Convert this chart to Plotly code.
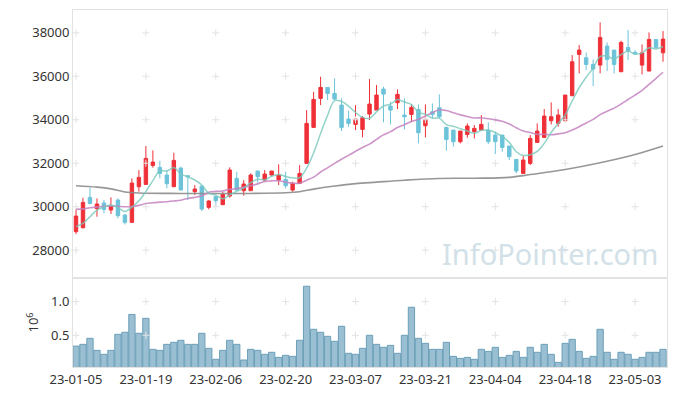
import plotly.graph_objects as go
from plotly.subplots import make_subplots
import pandas as pd

dates = [
    "23-01-05", "23-01-06", "23-01-09", "23-01-10", "23-01-11", "23-01-12", "23-01-13", "23-01-16",
    "23-01-17", "23-01-18", "23-01-19", "23-01-20", "23-01-25", "23-01-26", "23-01-27", "23-01-30",
    "23-01-31", "23-02-01", "23-02-02", "23-02-03", "23-02-06", "23-02-07", "23-02-08", "23-02-09",
    "23-02-10", "23-02-13", "23-02-14", "23-02-15", "23-02-16", "23-02-17", "23-02-20", "23-02-21",
    "23-02-22", "23-02-23", "23-02-24", "23-02-27", "23-02-28", "23-03-02", "23-03-03", "23-03-06",
    "23-03-07", "23-03-08", "23-03-09", "23-03-10", "23-03-13", "23-03-14", "23-03-15", "23-03-16",
    "23-03-17", "23-03-20", "23-03-21", "23-03-22", "23-03-23", "23-03-24", "23-03-27", "23-03-28",
    "23-03-29", "23-03-30", "23-03-31", "23-04-03", "23-04-04", "23-04-05", "23-04-06", "23-04-07",
    "23-04-10", "23-04-11", "23-04-12", "23-04-13", "23-04-14", "23-04-17", "23-04-18", "23-04-19",
    "23-04-20", "23-04-21", "23-04-24", "23-04-25", "23-04-26", "23-04-27", "23-04-28", "23-05-02",
    "23-05-03", "23-05-04", "23-05-08", "23-05-09", "23-05-10",
]

opens = [
    28850, 29034, 30429, 29908, 30169, 29847, 30307, 29617, 29280, 30920,
    31027, 31901, 31809, 31456, 30920, 31778, 31426, 30690, 30950, 29970,
    30460, 30092, 30490, 31303, 30736, 30736, 31640, 31226, 31456, 31226,
    31257, 30767, 31073, 31993, 33649, 34982, 35488, 35212, 34676, 34032,
    33787, 33556, 34262, 34446, 35411, 34630, 34783, 34216, 34246, 34476,
    33725, 34369, 34553, 33649, 33526, 32990, 33326, 33449, 33526, 33526,
    33296, 33296, 32790, 32177, 31533, 31993, 32959, 33189, 33955, 33833,
    33955, 35105, 37006, 36853, 36546, 36515, 37389, 37205, 36209, 37328,
    37098, 36515, 36240, 37696, 37082,
]
highs = [
    29877, 30414, 30874, 30383, 30307, 30429, 30383, 29647, 31303, 31686,
    32790, 32591, 32116, 31686, 32483, 31840, 31426, 30997, 30950, 30307,
    30506, 30690, 31809, 31610, 31226, 31533, 31640, 31686, 31640, 31947,
    31610, 31150, 31916, 34446, 35289, 35979, 35488, 35902, 34982, 34415,
    34676, 34170, 35871, 35596, 35519, 34829, 35396, 34982, 34722, 34706,
    34706, 34752, 35166, 33649, 33526, 33480, 33833, 33756, 34216, 33879,
    33449, 33296, 32790, 32177, 32346, 33296, 33833, 34492, 34799, 34492,
    35136, 36976, 37435, 37098, 36776, 38478, 37557, 37205, 37634, 38125,
    37205, 37466, 38018, 37696, 38079,
]
lows = [
    28743, 29000, 30107, 29540, 29693, 29663, 29463, 29187, 29280, 30690,
    30997, 31794, 31303, 30843, 30920, 30767, 30307, 30537, 29800, 29877,
    30000, 30092, 30414, 30767, 30506, 30736, 31104, 31150, 31426, 30997,
    30843, 30690, 31042, 31993, 33649, 34676, 34906, 34906, 33480, 33679,
    33526, 33189, 33986, 34446, 33879, 33786, 34492, 33557, 33894, 32913,
    33189, 34062, 34062, 32575, 32759, 32913, 33173, 33143, 33495, 32882,
    32422, 32530, 32146, 31533, 31533, 31916, 32959, 33189, 33786, 33679,
    33955, 35105, 36132, 36286, 35550, 36132, 36240, 36132, 36209, 36745,
    36976, 36086, 36240, 37312, 36669,
]
closes = [
    29571, 30199, 30153, 30123, 29877, 30046, 29586, 29280, 31088, 31349,
    32223, 32054, 31533, 31058, 32131, 30767, 31380, 30813, 29893, 30260,
    30276, 30567, 31686, 30767, 31042, 31456, 31380, 31502, 31640, 31456,
    30966, 31073, 31533, 33833, 34936, 35488, 35212, 34952, 33649, 33833,
    34032, 34093, 34722, 35136, 35181, 34446, 35166, 34139, 34569, 33403,
    34016, 34246, 34139, 33097, 32990, 33480, 33710, 33603, 33787, 32990,
    32990, 32729, 32300, 31640, 32146, 33143, 33480, 34170, 34139, 34216,
    35136, 36669, 37205, 36546, 36332, 37788, 36776, 36546, 37557, 37159,
    37052, 37082, 37696, 37312, 37711,
]

# volume in millions of shares
volumes = [
    0.340, 0.366, 0.455, 0.277, 0.218, 0.277, 0.515, 0.545, 0.810, 0.530,
    0.752, 0.292, 0.277, 0.366, 0.396, 0.426, 0.366, 0.366, 0.530, 0.307,
    0.144, 0.277, 0.426, 0.366, 0.134, 0.292, 0.277, 0.218, 0.248, 0.173,
    0.203, 0.188, 0.426, 1.228, 0.589, 0.545, 0.485, 0.411, 0.634, 0.233,
    0.218, 0.307, 0.500, 0.366, 0.322, 0.351, 0.233, 0.500, 0.916, 0.455,
    0.381, 0.292, 0.292, 0.396, 0.188, 0.158, 0.173, 0.144, 0.292, 0.262,
    0.322, 0.173, 0.203, 0.262, 0.173, 0.322, 0.248, 0.366, 0.218, 0.099,
    0.381, 0.440, 0.262, 0.158, 0.188, 0.589, 0.248, 0.144, 0.248, 0.218,
    0.144, 0.173, 0.248, 0.248, 0.292,
]

# moving-average values before enough history is visible
ma5_head = [29080, 29230, 29540, 29847]
ma20_head = [29877, 29900, 29950, 29990, 30020, 30030, 30020, 30000, 30010, 30060,
             30150, 30180, 30210, 30230, 30260, 30300, 30380, 30430, 30500]
# long moving average (gray), read at these candle indexes
ma_long_idx = [0, 3, 5, 7, 9, 15, 20, 25, 30, 32, 34, 37, 40, 43, 47, 52, 57, 62, 65, 70, 75, 80, 84]
ma_long_val = [30966, 30900, 30820, 30680, 30630, 30610, 30610, 30610, 30640, 30690, 30810, 30950,
               31060, 31130, 31220, 31300, 31310, 31350, 31480, 31710, 32020, 32400, 32790]

price_ticks = [28000, 30000, 32000, 34000, 36000, 38000]
vol_ticks = [0.5, 1.0]

cs = pd.Series(closes, dtype=float)
ma5 = cs.rolling(5).mean().tolist()
ma5[:4] = ma5_head
ma20 = cs.rolling(20).mean().tolist()
ma20[:19] = ma20_head

fig = make_subplots(rows=2, cols=1, shared_xaxes=True, vertical_spacing=0,
                    row_heights=[268, 89])

tick_dates = dates[::10]

# small cross-shaped grid markers at tick intersections
cross = dict(symbol="cross-thin", size=5, line=dict(color="#e3e3e3", width=1))
gx, gy = [], []
for d in tick_dates:
    for t in price_ticks:
        gx.append(d); gy.append(t)
fig.add_trace(go.Scatter(x=gx, y=gy, mode="markers", hoverinfo="skip", showlegend=False,
                         marker=cross), row=1, col=1)
vx, vy = [], []
for d in tick_dates:
    for t in vol_ticks:
        vx.append(d); vy.append(t)
fig.add_trace(go.Scatter(x=vx, y=vy, mode="markers", hoverinfo="skip", showlegend=False,
                         marker=cross), row=2, col=1)

fig.add_trace(go.Candlestick(
    x=dates, open=opens, high=highs, low=lows, close=closes,
    increasing=dict(line=dict(color="#ef3038", width=1), fillcolor="#ef3038"),
    decreasing=dict(line=dict(color="#6cc3d9", width=1), fillcolor="#6cc3d9"),
    whiskerwidth=0, showlegend=False), row=1, col=1)

fig.add_trace(go.Scatter(x=[dates[i] for i in ma_long_idx], y=ma_long_val, mode="lines",
                         line=dict(color="rgba(140,140,140,0.9)", width=1.6, shape="spline"),
                         showlegend=False), row=1, col=1)
fig.add_trace(go.Scatter(x=dates, y=ma20, mode="lines",
                         line=dict(color="rgba(196,130,192,0.85)", width=1.6, shape="spline"),
                         showlegend=False), row=1, col=1)
fig.add_trace(go.Scatter(x=dates, y=ma5, mode="lines",
                         line=dict(color="rgba(120,200,188,0.8)", width=1.5, shape="spline"),
                         showlegend=False), row=1, col=1)

fig.add_trace(go.Bar(x=dates, y=volumes, marker=dict(color="rgba(120,170,195,0.75)",
                                                      line=dict(color="#6b9fb8", width=1)),
                     showlegend=False), row=2, col=1)

axis_font = dict(family="Noto Sans", size=13, color="#333333")
fig.update_xaxes(type="category", categoryorder="array", categoryarray=dates,
                 range=[-0.43, 84.57], showgrid=False, zeroline=False, automargin=False,
                 showline=True, mirror=True, linecolor="#e2e2e2", linewidth=1,
                 tickmode="array", tickvals=tick_dates, ticktext=tick_dates, ticks="",
                 tickangle=0, tickfont=axis_font, rangeslider=dict(visible=False))
fig.update_xaxes(showticklabels=False, row=1, col=1)
fig.update_yaxes(showgrid=False, zeroline=False, showline=True, mirror=True, automargin=False,
                 linecolor="#e2e2e2", linewidth=1, ticks="", tickfont=axis_font)
fig.update_yaxes(range=[26720, 39050], tickvals=price_ticks, tickformat="d", row=1, col=1)
fig.update_yaxes(range=[0.03, 1.35], tickvals=vol_ticks, tickformat=".1f",
                 title=dict(text="10<sup>6</sup>", font=dict(family="Noto Sans", size=13, color="#333333"),
                            standoff=9),
                 row=2, col=1)

fig.add_annotation(text="InfoPointer.com", xref="paper", yref="paper", x=0.988, y=0.318,
                   xanchor="right", yanchor="middle", showarrow=False,
                   font=dict(family="Noto Sans", size=29, color="#d2e1e8"))

# page has an 8px default body margin, so the figure is sized to fit inside the window
fig.update_layout(width=669, height=388, margin=dict(l=65, r=10, t=2, b=29),
                  paper_bgcolor="white", plot_bgcolor="white", bargap=0.1,
                  boxgap=0.3, showlegend=False)

fig.write_html("out.html")
